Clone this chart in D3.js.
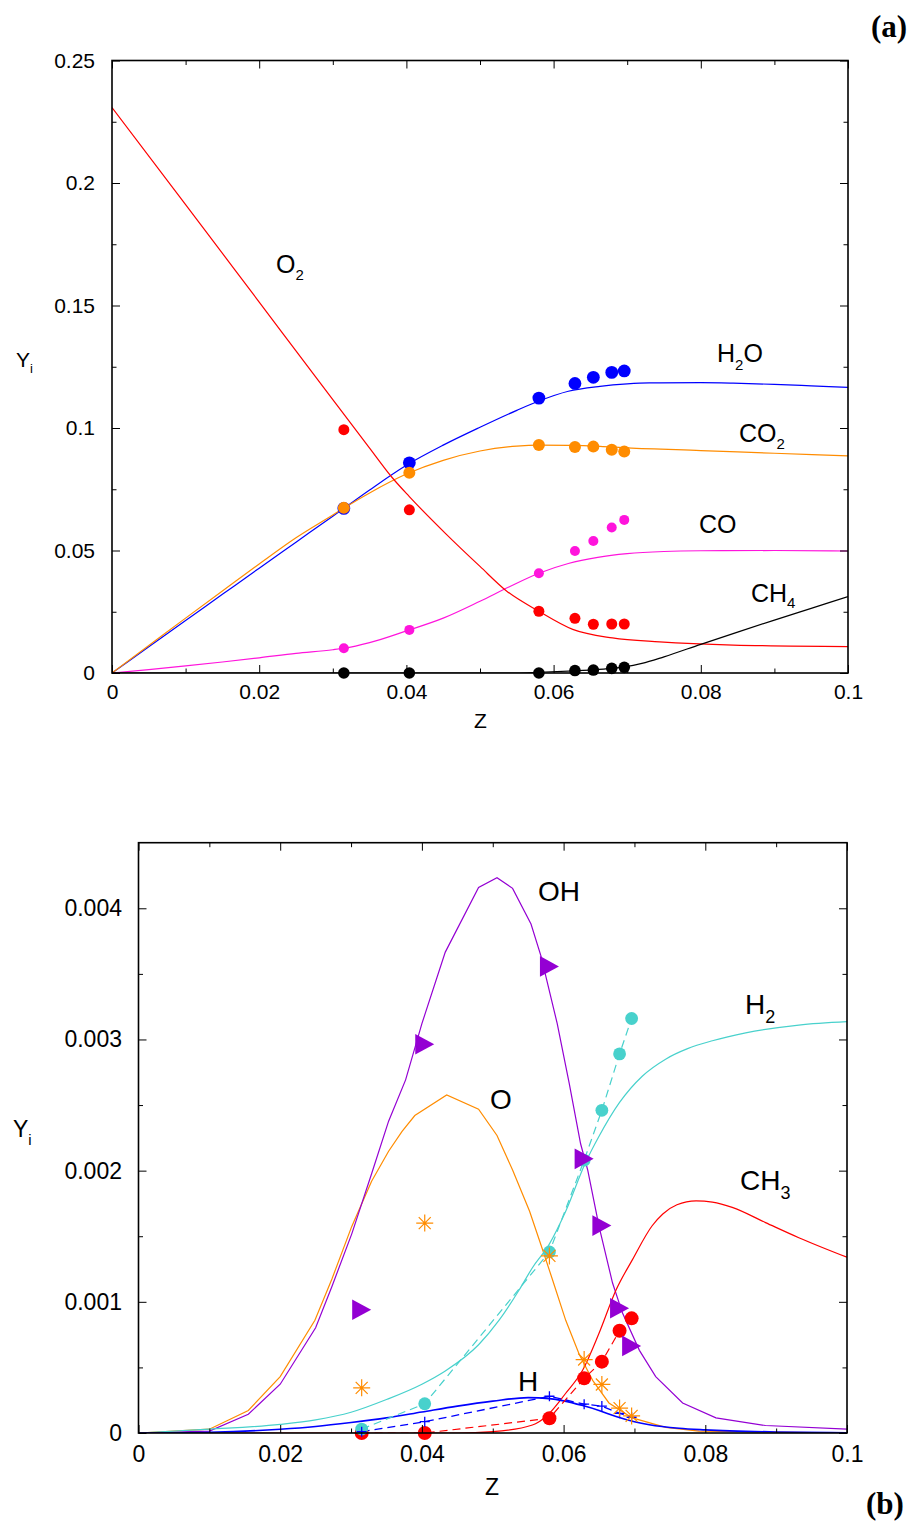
<!DOCTYPE html>
<html><head><meta charset="utf-8">
<script src="https://cdn.jsdelivr.net/npm/d3@7"></script>
<style>
body{margin:0;background:#fff}
svg{display:block}
</style>
</head><body>
<svg id="c" width="910" height="1526"></svg>
<script>
// ---------- shared ----------
const markerZ = [0.0315, 0.0404, 0.058, 0.0629, 0.0654, 0.0679, 0.0696];
const xTickVals = [0, 0.02, 0.04, 0.06, 0.08, 0.1];
const xTickLabels = ["0", "0.02", "0.04", "0.06", "0.08", "0.1"];
const xMinorVals = [0.01, 0.03, 0.05, 0.07, 0.09];

// ---------- panel (a) ----------
const aYTickVals = [0, 0.05, 0.1, 0.15, 0.2, 0.25];
const aYTickLabels = ["0", "0.05", "0.1", "0.15", "0.2", "0.25"];
const aYMinorVals = [0.025, 0.075, 0.125, 0.175, 0.225];

const h2oLine = [[0,0],[0.005,0.0107],[0.01,0.0214],[0.015,0.0321],[0.02,0.0428],[0.025,0.0534],[0.03,0.064],[0.0315,0.0672],[0.035,0.0747],[0.04,0.0848],[0.045,0.093],[0.05,0.1003],[0.055,0.1072],[0.058,0.111],[0.062,0.115],[0.0663,0.117],[0.07,0.118],[0.073,0.1184],[0.08,0.1185],[0.0844,0.1183],[0.09,0.1178],[0.095,0.1172],[0.1,0.1166]];
const co2Line = [[0,0],[0.005,0.0112],[0.01,0.0224],[0.015,0.0335],[0.02,0.0445],[0.025,0.0552],[0.03,0.0645],[0.0315,0.0673],[0.035,0.0735],[0.04,0.0812],[0.045,0.0868],[0.05,0.0906],[0.055,0.0926],[0.058,0.093],[0.062,0.0929],[0.0663,0.0925],[0.07,0.0919],[0.08,0.0908],[0.09,0.0897],[0.1,0.0886]];
const coLine = [[0,0],[0.005,0.0014],[0.01,0.0029],[0.015,0.0045],[0.02,0.0062],[0.025,0.008],[0.03,0.0095],[0.0315,0.0101],[0.035,0.0124],[0.04,0.0172],[0.045,0.0224],[0.05,0.0293],[0.054,0.0352],[0.058,0.0407],[0.062,0.0447],[0.066,0.0472],[0.07,0.0487],[0.075,0.0496],[0.08,0.0499],[0.09,0.05],[0.1,0.0498]];
const o2Line = [[0,0.2308],[0.01,0.1912],[0.02,0.1514],[0.03,0.1116],[0.035,0.0918],[0.038,0.08],[0.0404,0.072],[0.0454,0.0567],[0.05,0.0435],[0.0536,0.0335],[0.058,0.0252],[0.0626,0.0178],[0.068,0.0143],[0.0744,0.0127],[0.0844,0.0114],[0.1,0.0108]];
const ch4Line = [[0,0],[0.055,0],[0.058,0.0003],[0.0629,0.0009],[0.0654,0.0013],[0.0679,0.0019],[0.0696,0.0025],[0.072,0.0039],[0.075,0.0066],[0.08,0.0117],[0.085,0.0167],[0.09,0.0216],[0.095,0.0264],[0.1,0.0312]];

const h2oPts = [0.0672, 0.0858, 0.1122, 0.1182, 0.1207, 0.1227, 0.1233];
const co2Pts = [0.0674, 0.0817, 0.0931, 0.0922, 0.0924, 0.0911, 0.0904];
const coPts  = [0.0101, 0.0176, 0.0407, 0.0498, 0.0539, 0.0594, 0.0625];
const o2Pts  = [0.0993, 0.0666, 0.0252, 0.0223, 0.0199, 0.0200, 0.0200];
const ch4Pts = [0, 0, 0, 0.0010, 0.0012, 0.0019, 0.0023];

// ---------- panel (b) ----------
const bYTickVals = [0, 0.001, 0.002, 0.003, 0.004];
const bYTickLabels = ["0", "0.001", "0.002", "0.003", "0.004"];
const bYMinorVals = [0.0005, 0.0015, 0.0025, 0.0035];

const ohLine = [[0,0],[0.01,0.000014],[0.0155,0.000143],[0.02,0.000372],[0.025,0.000802],[0.0273,0.001117],[0.0301,0.001518],[0.0329,0.001976],[0.0353,0.002377],[0.0377,0.002692],[0.04,0.003121],[0.0433,0.003666],[0.048,0.004158],[0.0506,0.004233],[0.0528,0.004152],[0.0554,0.00388],[0.0568,0.003637],[0.0591,0.003121],[0.0608,0.002663],[0.0624,0.002205],[0.0634,0.002005],[0.065,0.001575],[0.0669,0.001145],[0.0683,0.000916],[0.0707,0.00063],[0.073,0.00043],[0.0768,0.000229],[0.0815,0.000115],[0.0885,0.000057],[0.1,0.000029]];
const oLine = [[0,0],[0.01,0.000029],[0.0155,0.000172],[0.02,0.00043],[0.0249,0.000859],[0.0273,0.001174],[0.0301,0.001575],[0.0329,0.001919],[0.0353,0.002148],[0.0372,0.0023],[0.039,0.00242],[0.0435,0.002577],[0.048,0.002469],[0.0506,0.002268],[0.0528,0.002005],[0.0552,0.00169],[0.057,0.001403],[0.0584,0.001174],[0.0603,0.000859],[0.0622,0.000601],[0.0641,0.000401],[0.0664,0.000229],[0.0697,0.000115],[0.0744,0.000043],[0.0791,0.000014],[0.1,0]];
const h2Line = [[0,0],[0.01,0.000029],[0.02,0.000066],[0.025,0.0001],[0.03,0.000158],[0.035,0.000255],[0.04,0.000372],[0.0433,0.000473],[0.048,0.000673],[0.0509,0.00086],[0.0537,0.001088],[0.0556,0.00126],[0.0579,0.001432],[0.0603,0.00169],[0.0631,0.002062],[0.065,0.002262],[0.0679,0.00252],[0.0711,0.00272],[0.0744,0.00285],[0.0775,0.00293],[0.081,0.00299],[0.0857,0.00305],[0.0932,0.00311],[0.1,0.003136]];
const ch3Line = [[0,0],[0.045,0],[0.05,0.00001],[0.0556,0.000061],[0.0575,0.000124],[0.0603,0.000303],[0.0627,0.00048],[0.065,0.00076],[0.0674,0.00109],[0.0697,0.00132],[0.0725,0.00158],[0.074,0.00167],[0.076,0.00174],[0.0787,0.00177],[0.081,0.00176],[0.0838,0.00172],[0.0885,0.001604],[0.0932,0.001489],[0.1,0.00134]];
const hLine = [[0,0],[0.01,0.000006],[0.02,0.000029],[0.025,0.00005],[0.03,0.00008],[0.035,0.000115],[0.04,0.00016],[0.045,0.000205],[0.05,0.000243],[0.055,0.00027],[0.058,0.000262],[0.06,0.000245],[0.0627,0.000209],[0.065,0.000172],[0.0674,0.000126],[0.07,0.000086],[0.0721,0.000063],[0.0763,0.000036],[0.08,0.000024],[0.09,0.000008],[0.1,0.000002]];

const ohPts  = [0.000939, 0.002964, 0.003557, 0.00209, 0.001581, 0.000951, 0.000664];
const oPts   = [0.000344, 0.0016, 0.00135, 0.00056, 0.00037, 0.00019, 0.00013];
const h2Pts  = [0.00003, 0.000223, 0.00138, 0.00208, 0.00246, 0.00289, 0.00316];
const ch3Pts = [0, 0, 0.000112, 0.000417, 0.000544, 0.00078, 0.000874];
const hPts   = [0.00001, 0.000086, 0.00028, 0.00022, 0.000205, 0.00015, 0.00012];

// ---------- colours ----------
const C = {blue:"#0000ff", orange:"#ff8c00", magenta:"#ff14dc", red:"#ff0000", black:"#000000",
           purple:"#9400d3", turq:"#48d1cc"};
const SANS = '"Liberation Sans", Arial, Helvetica, sans-serif';
const SERIF = '"Liberation Serif", "Times New Roman", serif';

const svg = d3.select("#c");

function frame(g, x, y, yVals, yLabs, yMinor, fs, xPad, yPad) {
  const [x0, x1] = x.range(), [y0, y1] = y.range();
  const style = sel => {
    sel.select(".domain").remove();
    sel.selectAll(".tick line").attr("stroke", "#000").attr("stroke-width", 1);
    sel.selectAll("text").style("font-size", fs + "px").style("font-family", SANS).attr("fill", "#000");
  };
  g.append("g").attr("transform", `translate(0,${y0})`)
    .call(d3.axisBottom(x).tickValues(xTickVals).tickFormat((d, i) => xTickLabels[i]).tickSizeInner(-8).tickSizeOuter(0).tickPadding(xPad)).call(style);
  g.append("g").attr("transform", `translate(0,${y0})`)
    .call(d3.axisBottom(x).tickValues(xMinorVals).tickFormat("").tickSizeInner(-4.5).tickSizeOuter(0)).call(style);
  g.append("g").attr("transform", `translate(0,${y1})`)
    .call(d3.axisTop(x).tickValues(xTickVals).tickFormat("").tickSizeInner(-8).tickSizeOuter(0)).call(style);
  g.append("g").attr("transform", `translate(0,${y1})`)
    .call(d3.axisTop(x).tickValues(xMinorVals).tickFormat("").tickSizeInner(-4.5).tickSizeOuter(0)).call(style);
  g.append("g").attr("transform", `translate(${x0},0)`)
    .call(d3.axisLeft(y).tickValues(yVals).tickFormat((d, i) => yLabs[i]).tickSizeInner(-8).tickSizeOuter(0).tickPadding(yPad)).call(style);
  g.append("g").attr("transform", `translate(${x0},0)`)
    .call(d3.axisLeft(y).tickValues(yMinor).tickFormat("").tickSizeInner(-4.5).tickSizeOuter(0)).call(style);
  g.append("g").attr("transform", `translate(${x1},0)`)
    .call(d3.axisRight(y).tickValues(yVals).tickFormat("").tickSizeInner(-8).tickSizeOuter(0)).call(style);
  g.append("g").attr("transform", `translate(${x1},0)`)
    .call(d3.axisRight(y).tickValues(yMinor).tickFormat("").tickSizeInner(-4.5).tickSizeOuter(0)).call(style);
  g.append("rect").attr("x", x0).attr("y", y1).attr("width", x1 - x0).attr("height", y0 - y1)
    .attr("fill", "none").attr("stroke", "#000").attr("stroke-width", 1.6);
}

function drawLine(g, x, y, data, color, w, dash, curve) {
  g.append("path").datum(data)
    .attr("d", d3.line().x(d => x(d[0])).y(d => y(d[1])).curve(curve || d3.curveLinear))
    .attr("fill", "none").attr("stroke", color).attr("stroke-width", w)
    .attr("stroke-dasharray", dash || null);
}
function dots(g, x, y, vals, color, r) {
  g.selectAll(null).data(vals).enter().append("circle")
    .attr("cx", (d, i) => x(markerZ[i])).attr("cy", d => y(d)).attr("r", r).attr("fill", color);
}
function label(g, xx, yy, parts, fs, sfs, sdy) {
  const t = g.append("text").attr("x", xx).attr("y", yy)
    .style("font-family", SANS).style("font-size", fs + "px").attr("fill", "#000");
  let down = false;
  parts.forEach(p => {
    if (p.sub) { t.append("tspan").style("font-size", sfs + "px").attr("dy", sdy).text(p.t); down = true; }
    else { t.append("tspan").style("font-size", fs + "px").attr("dy", down ? -sdy : 0).text(p.t); down = false; }
  });
}

// ================= panel (a) =================
const xA = d3.scaleLinear().domain([0, 0.1]).range([112, 848]);
const yA = d3.scaleLinear().domain([0, 0.25]).range([673, 60.5]);
const gA = svg.append("g");
svg.append("clipPath").attr("id", "clipA").append("rect").attr("x", 112).attr("y", 60.5).attr("width", 736).attr("height", 612.5);
const dA = gA.append("g").attr("clip-path", "url(#clipA)");
const smooth = d3.curveMonotoneX;
drawLine(dA, xA, yA, h2oLine, C.blue, 1.2, null, smooth);
drawLine(dA, xA, yA, co2Line, C.orange, 1.2, null, smooth);
drawLine(dA, xA, yA, coLine, C.magenta, 1.2, null, smooth);
drawLine(dA, xA, yA, o2Line, C.red, 1.2, null, smooth);
drawLine(dA, xA, yA, ch4Line, C.black, 1.2, null, smooth);
dots(gA, xA, yA, h2oPts, C.blue, 6.4);
dots(gA, xA, yA, co2Pts, C.orange, 6);
dots(gA, xA, yA, coPts, C.magenta, 5);
dots(gA, xA, yA, o2Pts, C.red, 5.5);
dots(gA, xA, yA, ch4Pts, C.black, 5.8);
frame(gA, xA, yA, aYTickVals, aYTickLabels, aYMinorVals, 21, 11, 17);

label(gA, 276, 273, [{t:"O"},{t:"2",sub:true}], 25, 15, 7);
label(gA, 717, 362, [{t:"H"},{t:"2",sub:true},{t:"O"}], 25, 15, 8);
label(gA, 739, 442, [{t:"CO"},{t:"2",sub:true}], 25, 15, 7);
label(gA, 699, 533, [{t:"CO"}], 25, 15, 7);
label(gA, 751, 602, [{t:"CH"},{t:"4",sub:true}], 25, 15, 6);
label(gA, 474, 728, [{t:"Z"}], 21, 13, 6);
label(gA, 16, 367, [{t:"Y"},{t:"i",sub:true}], 21, 13, 6);

// ================= panel (b) =================
const xB = d3.scaleLinear().domain([0, 0.1]).range([138.5, 847]);
const yB = d3.scaleLinear().domain([0, 0.0045]).range([1433, 842.7]);
const gB = svg.append("g");
svg.append("clipPath").attr("id", "clipB").append("rect").attr("x", 138.5).attr("y", 842.7).attr("width", 708.5).attr("height", 590.3);
const dB = gB.append("g").attr("clip-path", "url(#clipB)");
drawLine(dB, xB, yB, oLine, C.orange, 1.2);
drawLine(dB, xB, yB, ohLine, C.purple, 1.2);
drawLine(dB, xB, yB, h2Line, C.turq, 1.2, null, smooth);
drawLine(dB, xB, yB, ch3Line, C.red, 1.2, null, smooth);
drawLine(dB, xB, yB, hLine, C.blue, 1.6, null, smooth);
const ptPairs = vals => vals.map((v, i) => [markerZ[i], v]);
drawLine(dB, xB, yB, ptPairs(h2Pts), C.turq, 1.2, "8,5");
drawLine(dB, xB, yB, ptPairs(ch3Pts), C.red, 1.2, "8,5");
drawLine(dB, xB, yB, ptPairs(hPts), C.blue, 1.3, "8,5");

dots(gB, xB, yB, ch3Pts, C.red, 7);
dots(gB, xB, yB, h2Pts, C.turq, 6.4);
// H: plus signs
gB.selectAll(null).data(hPts).enter().append("path")
  .attr("transform", (d, i) => `translate(${xB(markerZ[i])},${yB(d)})`)
  .attr("d", "M-5,0H5M0,-5V5").attr("stroke", C.blue).attr("stroke-width", 1.3).attr("fill", "none");
// O: asterisks
gB.selectAll(null).data(oPts).enter().append("path")
  .attr("transform", (d, i) => `translate(${xB(markerZ[i])},${yB(d)})`)
  .attr("d", "M-8.5,0H8.5M0,-8.5V8.5M-6,-6L6,6M-6,6L6,-6").attr("stroke", C.orange).attr("stroke-width", 1.2).attr("fill", "none");
// OH: right-pointing triangles
gB.selectAll(null).data(ohPts).enter().append("path")
  .attr("transform", (d, i) => `translate(${xB(markerZ[i])},${yB(d)})`)
  .attr("d", "M-9.5,-10.3L9.5,0L-9.5,10.3Z").attr("fill", C.purple);

frame(gB, xB, yB, bYTickVals, bYTickLabels, bYMinorVals, 23, 13, 16.5);

label(gB, 538, 901, [{t:"OH"}], 28, 18, 9);
label(gB, 490, 1109, [{t:"O"}], 28, 18, 9);
label(gB, 745, 1014, [{t:"H"},{t:"2",sub:true}], 28, 18, 9);
label(gB, 740, 1190, [{t:"CH"},{t:"3",sub:true}], 28, 18, 9);
label(gB, 518, 1391, [{t:"H"}], 28, 18, 9);
label(gB, 485, 1495, [{t:"Z"}], 23, 14, 6);
label(gB, 13, 1137, [{t:"Y"},{t:"i",sub:true}], 23, 15, 8);

// panel tags
svg.append("text").attr("x", 871).attr("y", 37).style("font-size", "31px").style("font-weight", "bold")
  .style("font-family", SERIF).attr("fill", "#000").text("(a)");
svg.append("text").attr("x", 866).attr("y", 1514).style("font-size", "31px").style("font-weight", "bold")
  .style("font-family", SERIF).attr("fill", "#000").text("(b)");
</script>
</body></html>
